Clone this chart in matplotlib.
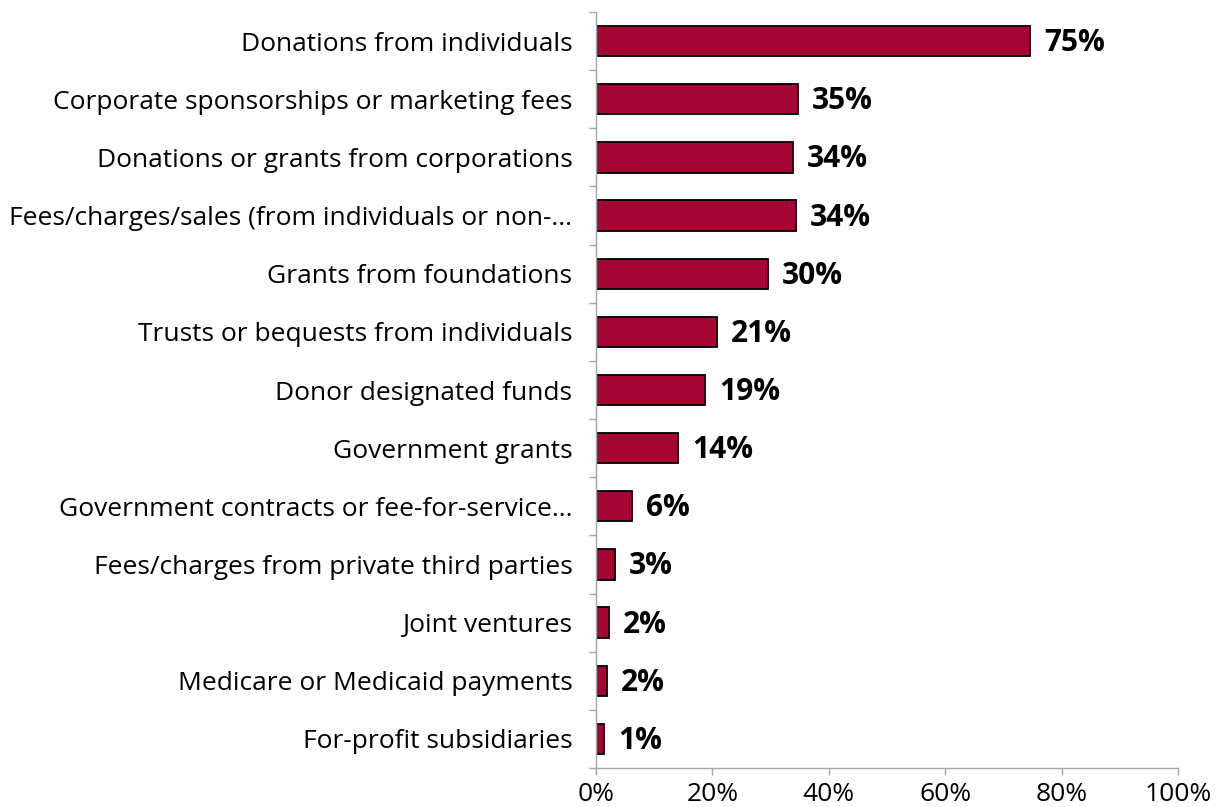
import numpy as np
from matplotlib import pyplot as plt
from matplotlib.ticker import FixedLocator, PercentFormatter

categories = [
    "Donations from individuals",
    "Corporate sponsorships or marketing fees",
    "Donations or grants from corporations",
    "Fees/charges/sales (from individuals or non-...",
    "Grants from foundations",
    "Trusts or bequests from individuals",
    "Donor designated funds",
    "Government grants",
    "Government contracts or fee-for-service...",
    "Fees/charges from private third parties",
    "Joint ventures",
    "Medicare or Medicaid payments",
    "For-profit subsidiaries",
]
values = [74.6, 34.7, 33.8, 34.4, 29.6, 20.8, 18.7, 14.1, 6.2, 3.3, 2.2, 1.9, 1.4]
xticks = [0, 20, 40, 60, 80, 100]

plt.rcParams['font.family'] = ['Open Sans', 'DejaVu Sans']

fig = plt.figure(figsize=(12.2, 8.07), dpi=100)
ax = fig.add_axes([596/1220, 1 - 768/807, (1178-596)/1220, (768-12)/807])

n = len(categories)
ypos = np.arange(n)
ax.barh(ypos, values, height=0.52, color='#A50532', edgecolor='black', linewidth=1.3)

for y, v in zip(ypos, values):
    ax.annotate(f"{round(v)}%", (v, y), xytext=(14, -2), textcoords='offset pixels',
                va='center', ha='left', fontsize=21.5, fontweight='bold')

ax.set_xlim(0, 100)
ax.set_ylim(n - 0.5, -0.5)
ax.set_yticks(ypos)
ax.set_yticklabels(categories, fontsize=19)
ax.yaxis.set_minor_locator(FixedLocator(np.arange(-0.5, n, 1)))
ax.tick_params(axis='y', which='major', length=0, pad=17)
ax.tick_params(axis='y', which='minor', length=5, color='#a6a6a6', width=1)
ax.set_xticks(xticks)
ax.xaxis.set_major_formatter(PercentFormatter(decimals=0))
ax.tick_params(axis='x', length=5, color='#a6a6a6', width=1, labelsize=19, pad=5)

for s in ['top', 'right']:
    ax.spines[s].set_visible(False)
for s in ['left', 'bottom']:
    ax.spines[s].set_color('#a6a6a6')
    ax.spines[s].set_linewidth(1)

fig.savefig("out.png", dpi=100)
